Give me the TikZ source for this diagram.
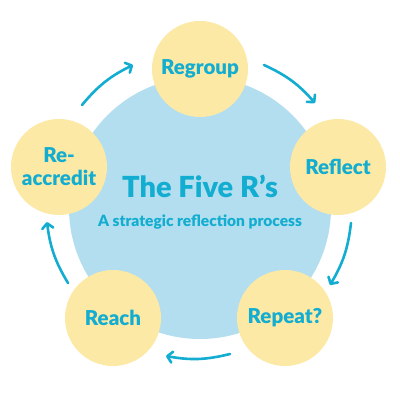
\documentclass[tikz,border=0pt]{standalone}
\usepackage{fontspec}
\setmainfont{Lato}[BoldFont={Lato Black}]
\usetikzlibrary{arrows.meta}
\definecolor{bigblue}{HTML}{B2DEEF}
\definecolor{pale}{HTML}{FDE9A6}
\definecolor{ink}{HTML}{12ADD0}
\begin{document}
\begin{tikzpicture}[x=1pt,y=-1pt,
  stage/.style={circle, fill=pale, minimum size=96pt, inner sep=0pt, text=ink,
    font=\fontsize{20.5}{23}\selectfont\bfseries, align=center},
  flow/.style={draw=ink, line width=2.6pt, line cap=round,
    -{Straight Barb[length=5pt,width=11pt,round]}}]
\fill[white] (0,0) rectangle (400,400);
\useasboundingbox (0,0) rectangle (400,400);
\node[circle, fill=bigblue, minimum size=262pt, inner sep=0pt] (big) at (200,208) {};
\node[stage] (regroup) at (200,69) {Regroup};
\node[stage] (reflect) at (338,167) {Reflect};
\node[stage] (repeat) at (285,318) {Repeat?};
\node[stage] (reach) at (113,318) {Reach};
\node[stage] (reacc) at (59,167) {Re-\\accredit};
\node[text=ink, font=\fontsize{29}{32}\selectfont\bfseries] (title) at (200,186) {The Five R’s};
\node[text=ink, font=\fontsize{15.5}{18}\selectfont\bfseries] (sub) at (200,222) {A strategic reflection process};
\coordinate (s1) at (82,105);
\coordinate (e1) at (133,65);
\coordinate (s2) at (264,65);
\coordinate (e2) at (315,103);
\coordinate (s3) at (351,223);
\coordinate (e3) at (330,285);
\coordinate (s4) at (230,354);
\coordinate (e4) at (166,356);
\coordinate (s5) at (68,283);
\coordinate (e5) at (47,222);
\draw[flow] (s1) to[bend left=12] (e1);
\draw[flow] (s2) to[bend left=12] (e2);
\draw[flow] (s3) to[bend left=12] (e3);
\draw[flow] (s4) to[bend left=12] (e4);
\draw[flow] (s5) to[bend left=12] (e5);
\end{tikzpicture}
\end{document}
